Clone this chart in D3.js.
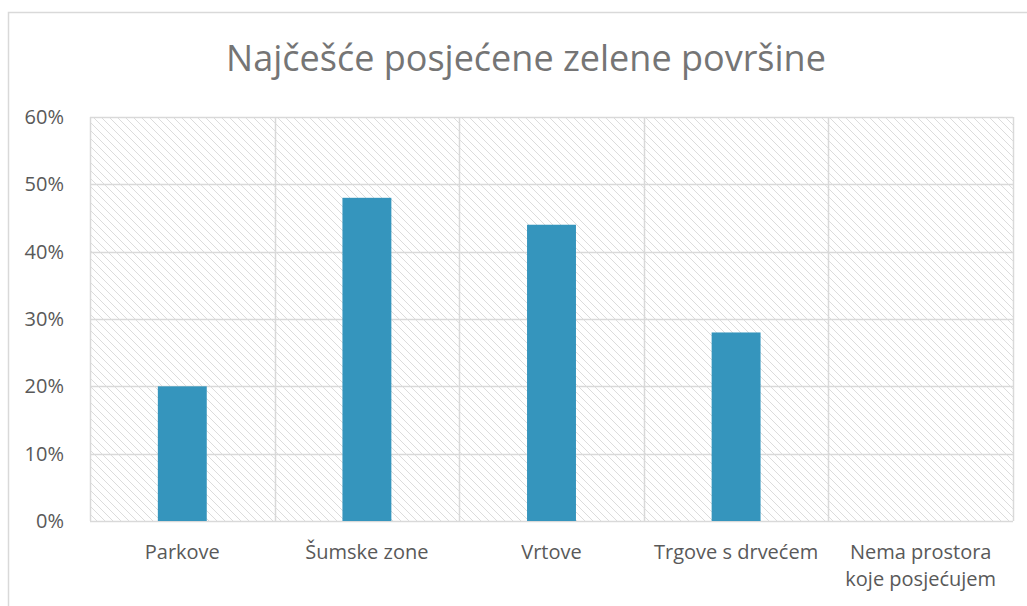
<!DOCTYPE html>
<html>
<head>
<meta charset="utf-8">
<script src="https://cdn.jsdelivr.net/npm/d3@7"></script>
<style>
  body { margin: 0; background: #fff; }
  svg { display: block; font-family: "Open Sans", "Noto Sans", sans-serif; }
</style>
</head>
<body>
<svg id="chart" width="1027" height="606"></svg>
<script>
// data
const categories = ["Parkove", "Šumske zone", "Vrtove", "Trgove s drvećem", "Nema prostora koje posjećujem"];
const categoryLines = [["Parkove"], ["Šumske zone"], ["Vrtove"], ["Trgove s drvećem"], ["Nema prostora", "koje posjećujem"]];
const values = [0.20, 0.48, 0.44, 0.28, 0];
const yTicks = [0, 0.1, 0.2, 0.3, 0.4, 0.5, 0.6];
const title = "Najčešće posjećene zelene površine";

const svg = d3.select("#chart");
const margin = { top: 117, right: 14, bottom: 85, left: 90 };
const width = 1027, height = 606;

// outer chart frame
svg.append("rect")
    .attr("x", 8.5).attr("y", 12.5)
    .attr("width", 1040).attr("height", 620)
    .attr("fill", "#fff")
    .attr("stroke", "#d9d9d9")
    .attr("stroke-width", 1.5);

// hatch pattern
const defs = svg.append("defs");
const pat = defs.append("pattern")
    .attr("id", "hatch")
    .attr("patternUnits", "userSpaceOnUse")
    .attr("width", 8).attr("height", 8);
pat.append("rect").attr("width", 8).attr("height", 8).attr("fill", "#fff");
pat.append("path")
    .attr("d", "M-2,-2 L10,10 M-2,6 L2,10 M6,-2 L10,2")
    .attr("stroke", "#dcdcdc")
    .attr("stroke-width", 1);

const x = d3.scaleBand()
    .domain(categories)
    .range([margin.left, width - margin.right])
    .paddingInner(0.735)
    .paddingOuter(0.3675);

const xCat = d3.scaleBand()
    .domain(categories)
    .range([margin.left, width - margin.right]);

const y = d3.scaleLinear()
    .domain([0, 0.6])
    .range([height - margin.bottom, margin.top]);

// plot background
svg.append("rect")
    .attr("x", margin.left).attr("y", margin.top)
    .attr("width", width - margin.right - margin.left)
    .attr("height", height - margin.bottom - margin.top)
    .attr("fill", "url(#hatch)");

// horizontal gridlines
svg.append("g")
    .selectAll("line")
    .data(yTicks)
    .join("line")
    .attr("x1", margin.left).attr("x2", width - margin.right)
    .attr("y1", d => Math.round(y(d)) + 0.5).attr("y2", d => Math.round(y(d)) + 0.5)
    .attr("stroke", "#d9d9d9")
    .attr("stroke-width", 1.5);

// vertical gridlines between categories
const vLines = categories.map(c => xCat(c)).concat([width - margin.right]);
svg.append("g")
    .selectAll("line")
    .data(vLines)
    .join("line")
    .attr("x1", d => Math.round(d) + 0.5).attr("x2", d => Math.round(d) + 0.5)
    .attr("y1", margin.top).attr("y2", height - margin.bottom)
    .attr("stroke", "#d9d9d9")
    .attr("stroke-width", 1.5);

// bars
svg.append("g")
    .selectAll("rect")
    .data(values)
    .join("rect")
    .attr("x", (d, i) => x(categories[i]))
    .attr("y", d => y(d))
    .attr("width", x.bandwidth())
    .attr("height", d => y(0) - y(d))
    .attr("fill", "#3595bd");

// y axis
const yAxis = svg.append("g")
    .attr("transform", `translate(${margin.left - 23}, 0)`)
    .call(d3.axisLeft(y).tickValues(yTicks).tickFormat(d3.format(".0%")).tickSize(0));
yAxis.select(".domain").remove();
yAxis.selectAll("text")
    .attr("fill", "#595959")
    .style("font-size", "20px")
    .style("font-family", "'Open Sans', sans-serif");

// x labels
const xLabels = svg.append("g")
    .selectAll("text")
    .data(categoryLines)
    .join("text")
    .attr("x", (d, i) => xCat(categories[i]) + xCat.bandwidth() / 2)
    .attr("y", 559)
    .attr("text-anchor", "middle")
    .attr("fill", "#595959")
    .style("font-size", "20px");
xLabels.selectAll("tspan")
    .data(d => d)
    .join("tspan")
    .attr("x", function() { return this.parentNode.getAttribute("x"); })
    .attr("dy", (d, i) => i === 0 ? 0 : 27)
    .text(d => d);

// title
svg.append("text")
    .attr("x", 526)
    .attr("y", 71)
    .attr("text-anchor", "middle")
    .attr("fill", "#757575")
    .style("font-size", "36px")
    .text(title);
</script>
</body>
</html>
